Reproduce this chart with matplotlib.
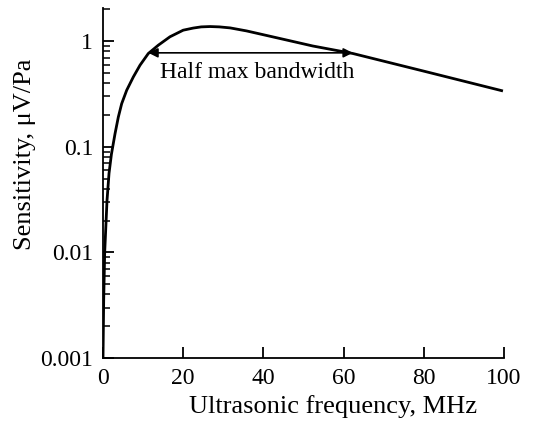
import matplotlib
matplotlib.use("Agg")
import matplotlib.pyplot as plt
from matplotlib.ticker import FixedLocator, LogLocator, NullFormatter, FixedFormatter

plt.rcParams['font.family'] = ['Liberation Serif', 'DejaVu Serif']

freq = [0.0, 0.17, 0.42, 1.0, 1.5, 2.1, 3.0, 3.82, 4.66, 5.91, 7.56, 9.23, 11.3, 13.8, 16.7,
        20.0, 22.5, 24.5, 26.7, 29.0, 31.7, 35.8, 40.0, 44.1, 52.3, 62.3, 80.0, 99.4]
sens = [0.001, 0.0035, 0.01, 0.031, 0.056, 0.085, 0.133, 0.191, 0.256, 0.343, 0.458, 0.592,
        0.764, 0.916, 1.10, 1.27, 1.33, 1.365, 1.375, 1.365, 1.335, 1.25, 1.15, 1.06, 0.90,
        0.764, 0.52, 0.34]

half_lo, half_hi, half_val = 11.3, 62.3, 0.775
xticks = [0, 20, 40, 60, 80, 100]
yticks = [0.001, 0.01, 0.1, 1]
ytick_labels = ['0.001', '0.01', '0.1', '1']

fig = plt.figure(figsize=(5.38, 4.22), dpi=100)
ax = fig.add_axes([103/538, 1-358/422, (504-103)/538, (358-8)/422])
ax.plot(freq, sens, color='black', lw=2)
ax.set_yscale('log')
ax.set_xlim(0, 100)
ax.set_ylim(0.001, 2.06)

ax.annotate('', xy=(half_lo, half_val), xytext=(half_hi, half_val),
            arrowprops=dict(arrowstyle='<|-|>', color='black', lw=1.2,
                            mutation_scale=14, shrinkA=0, shrinkB=0))
ax.text(14.2, 0.51, 'Half max bandwidth', fontsize=17, va='center', ha='left')

for s in ['top', 'right']:
    ax.spines[s].set_visible(False)
for s in ['left', 'bottom']:
    ax.spines[s].set_linewidth(1.3)

ax.xaxis.set_major_locator(FixedLocator(xticks))
ax.set_xticklabels([str(t) for t in xticks])
ax.yaxis.set_major_locator(FixedLocator(yticks))
ax.yaxis.set_major_formatter(FixedFormatter(ytick_labels))
ax.yaxis.set_minor_locator(LogLocator(base=10, subs=range(2, 10)))
ax.yaxis.set_minor_formatter(NullFormatter())
ax.tick_params(axis='both', which='major', direction='in', length=8, width=1.3,
               labelsize=17, pad=7)
ax.tick_params(axis='y', which='minor', direction='in', length=5, width=1.1)

ax.set_xlabel('Ultrasonic frequency, MHz', fontsize=19)
ax.xaxis.set_label_coords((333.5-103)/(504-103), -0.105)
ax.set_ylabel('Sensitivity, μV/Pa', fontsize=19)
ax.yaxis.set_label_coords(-0.168, (358-154)/350)

fig.savefig('out.png', dpi=100)
